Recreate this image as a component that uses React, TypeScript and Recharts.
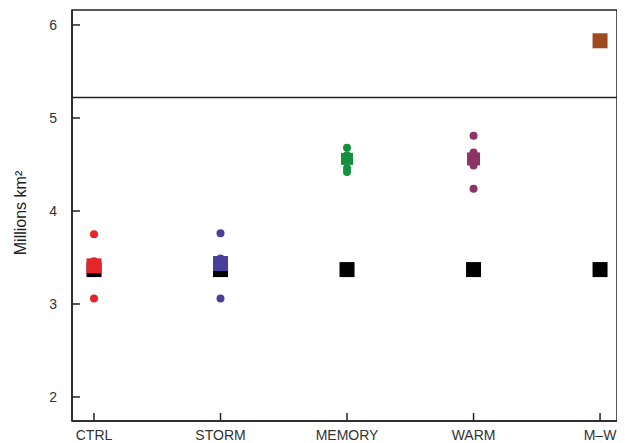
import React from 'react';
import {
  ScatterChart,
  Scatter,
  XAxis,
  YAxis,
  ReferenceLine,
  ReferenceArea,
  Customized,
} from 'recharts';

// ---- data ----
const categories = ['CTRL', 'STORM', 'MEMORY', 'WARM', 'M–W'];
const observedValues = [3.37, 3.37, 3.37, 3.37, 3.37];
const meanValues = [3.41, 3.435, 4.56, 4.56, 5.83];
const ctrlRuns = [3.75, 3.46, 3.06];
const stormRuns = [3.76, 3.49, 3.06];
const memoryRuns = [4.68, 4.6, 4.46, 4.42];
const warmRuns = [4.81, 4.63, 4.49, 4.24];
const yTicks = [2, 3, 4, 5, 6];
const dividerValue = 5.22;
const yLabel = 'Millions km²';

// ---- style ----
const colors = ['#e3262b', '#4a3f98', '#15903f', '#8b3468', '#a04a1f'];
const X_DOMAIN: [number, number] = [-0.174, 4.134];
const Y_DOMAIN: [number, number] = [1.742, 6.161];
const AXIS = '#222';
const FONT = '"Liberation Sans", Arial, sans-serif';

const toPoints = (values: number[], idx: number) => values.map((v) => ({ x: idx, y: v }));
const observedPoints = observedValues.map((v, i) => ({ x: i, y: v }));

const squareShape = (size: number, fill: string) => (props: any) => {
  const { cx, cy } = props;
  if (cx == null || cy == null) return <g />;
  return <rect x={cx - size / 2} y={cy - size / 2} width={size} height={size} fill={fill} />;
};
const dotShape = (r: number, fill: string) => (props: any) => {
  const { cx, cy } = props;
  if (cx == null || cy == null) return <g />;
  return <circle cx={cx} cy={cy} r={r} fill={fill} />;
};

const runsByCat = [ctrlRuns, stormRuns, memoryRuns, warmRuns];
const meanSizes = [15, 15, 12, 13, 15];

export default function App() {
  return (
    <div style={{ width: 617, height: 435, fontFamily: FONT }}>
      <ScatterChart
        width={617}
        height={435}
        margin={{ top: 2, right: 8, bottom: 0, left: 0 }}
        style={{ fontFamily: FONT }}
      >
        <XAxis
          type="number"
          dataKey="x"
          domain={X_DOMAIN}
          allowDataOverflow
          ticks={[0, 1, 2, 3, 4]}
          interval={0}
          tickFormatter={(v: number) => categories[v]}
          height={22}
          tickSize={-8}
          tickMargin={17}
          axisLine={{ stroke: AXIS, strokeWidth: 1.5 }}
          tickLine={{ stroke: AXIS, strokeWidth: 1.5 }}
          tick={{ fill: '#333', fontSize: 14, fontFamily: FONT }}
        />
        <YAxis
          type="number"
          dataKey="y"
          domain={Y_DOMAIN}
          allowDataOverflow
          ticks={yTicks}
          interval={0}
          width={64}
          tickSize={-8}
          tickMargin={23}
          axisLine={{ stroke: AXIS, strokeWidth: 1.5 }}
          tickLine={{ stroke: AXIS, strokeWidth: 1.5 }}
          tick={{ fill: '#333', fontSize: 14, fontFamily: FONT }}
        />
        <ReferenceArea
          x1={X_DOMAIN[0]}
          x2={X_DOMAIN[1]}
          y1={Y_DOMAIN[0]}
          y2={Y_DOMAIN[1]}
          fill="none"
          fillOpacity={0}
          stroke={AXIS}
          strokeWidth={1.5}
          ifOverflow="visible"
        />
        <ReferenceLine y={dividerValue} stroke={AXIS} strokeWidth={1.5} ifOverflow="visible" />
        <Scatter
          data={observedPoints}
          shape={squareShape(15, '#000')}
          isAnimationActive={false}
        />
        {meanValues.map((v, i) => (
          <Scatter
            key={'mean' + i}
            data={[{ x: i, y: v }]}
            shape={squareShape(meanSizes[i], colors[i])}
            isAnimationActive={false}
          />
        ))}
        {runsByCat.map((runs, i) => (
          <Scatter
            key={'runs' + i}
            data={toPoints(runs, i)}
            shape={dotShape(4, colors[i])}
            isAnimationActive={false}
          />
        ))}
        <Customized
          component={() => (
            <text
              x={12}
              y={205}
              transform="rotate(-90 12 205)"
              textAnchor="middle"
              dominantBaseline="central"
              fontSize={16}
              fill="#222"
              fontFamily={FONT}
            >
              {yLabel}
            </text>
          )}
        />
      </ScatterChart>
    </div>
  );
}
